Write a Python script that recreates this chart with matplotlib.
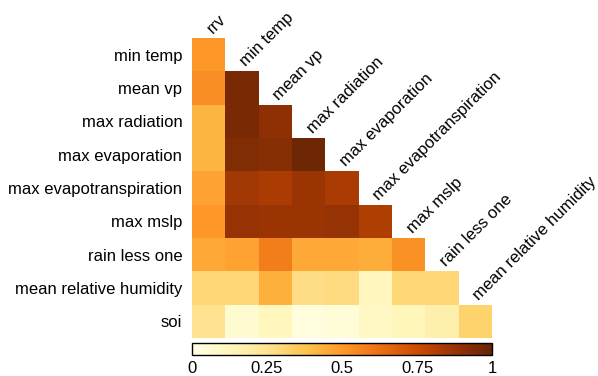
import numpy as np
import matplotlib
matplotlib.use("Agg")
import matplotlib.pyplot as plt

plt.rcParams["font.family"] = ["Liberation Sans", "DejaVu Sans"]

# columns and rows of the lower-triangle correlation matrix
col_labels = ["rrv", "min temp", "mean vp", "max radiation", "max evaporation",
              "max evapotranspiration", "max mslp", "rain less one",
              "mean relative humidity"]
row_labels = ["min temp", "mean vp", "max radiation", "max evaporation",
              "max evapotranspiration", "max mslp", "rain less one",
              "mean relative humidity", "soi"]

# absolute correlations, one list per row (only the lower triangle)
r_min_temp = [0.50]
r_mean_vp = [0.53, 0.95]
r_max_radiation = [0.42, 0.95, 0.90]
r_max_evaporation = [0.42, 0.93, 0.92, 0.98]
r_max_evapotr = [0.47, 0.85, 0.83, 0.87, 0.83]
r_max_mslp = [0.50, 0.88, 0.87, 0.87, 0.88, 0.82]
r_rain_less_one = [0.45, 0.47, 0.58, 0.45, 0.45, 0.44, 0.52]
r_mean_rel_hum = [0.30, 0.30, 0.43, 0.27, 0.28, 0.12, 0.30, 0.30]
r_soi = [0.25, 0.06, 0.12, 0.03, 0.04, 0.10, 0.13, 0.17, 0.32]

rows = [r_min_temp, r_mean_vp, r_max_radiation, r_max_evaporation, r_max_evapotr,
        r_max_mslp, r_rain_less_one, r_mean_rel_hum, r_soi]

n = len(col_labels)
mat = np.full((n, n), np.nan)
for i, r in enumerate(rows):
    mat[i, :len(r)] = r

fig = plt.figure(figsize=(5.98, 3.76), dpi=100)
ax = fig.add_axes([192 / 598, 38 / 376, 300 / 598, 300 / 376])
cmap = plt.get_cmap("YlOrBr")
im = ax.imshow(np.ma.masked_invalid(mat), cmap=cmap, vmin=0, vmax=1,
               interpolation="nearest", aspect="auto")

ax.set_yticks(range(n))
ax.set_yticklabels(row_labels, fontsize=12)
ax.set_xticks([])
ax.tick_params(axis="y", length=0, pad=7)
for s in ax.spines.values():
    s.set_visible(False)

# column labels sit diagonally above the first cell of each column
for j, lab in enumerate(col_labels):
    ax.text(j + 0.12, j - 0.62, lab, rotation=45, rotation_mode="anchor",
            ha="left", va="baseline", fontsize=12)

cax = fig.add_axes([192 / 598, 21 / 376, 300 / 598, 12 / 376])
cb = fig.colorbar(im, cax=cax, orientation="horizontal")
cb.set_ticks([0, 0.25, 0.5, 0.75, 1])
cb.set_ticklabels(["0", "0.25", "0.5", "0.75", "1"])
cb.ax.tick_params(length=0, labelsize=12, pad=4)
cb.outline.set_linewidth(1)

fig.savefig("out.png", dpi=100)
